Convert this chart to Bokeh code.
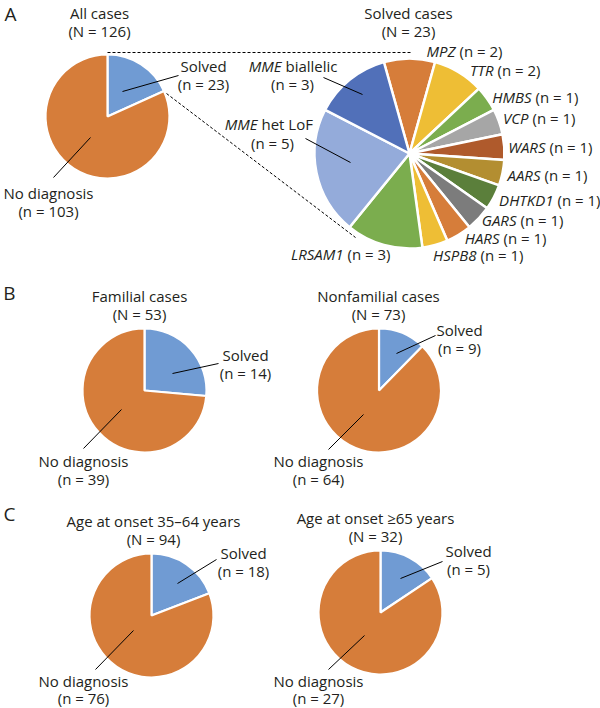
import math
from bokeh.plotting import figure
from bokeh.models import Range1d, ColumnDataSource
from bokeh.core.properties import value
from bokeh.embed import file_html
from bokeh.resources import INLINE

# ---------------- data ----------------
outcome_labels = ["Solved", "No diagnosis"]
all_cases = [23, 103]
familial = [14, 39]
nonfamilial = [9, 64]
onset_35_64 = [18, 76]
onset_65 = [5, 27]

gene_names = ["MPZ", "TTR", "HMBS", "VCP", "WARS", "AARS", "DHTKD1", "GARS",
              "HARS", "HSPB8", "LRSAM1", "MME het LoF", "MME biallelic"]
gene_counts = [2, 2, 1, 1, 1, 1, 1, 1, 1, 1, 3, 5, 3]

# ---------------- styles ----------------
BLUE = "#709BD3"
ORANGE = "#D67D3A"
outcome_colors = [BLUE, ORANGE]
gene_colors = ["#D67D3A", "#EEBE35", "#7BAD4E", "#A6A6A6", "#AF5A2C", "#B38E31",
               "#5B7F3B", "#7C7C7C", "#D67D3A", "#EEBE35", "#7BAD4E", "#94ABDA", "#5170B9"]
TC = "#231F20"
FONT = value("Open Sans")
FS = "15px"
BIG = "19px"

W, H = 600, 708
p = figure(width=W, height=H, x_range=Range1d(0, W), y_range=Range1d(0, H),
           output_backend="svg", toolbar_location=None, min_border=0,
           x_axis_location=None, y_axis_location=None)
p.grid.visible = False
p.outline_line_color = None
p.background_fill_color = "white"
p.border_fill_color = "white"


def pie(cx, cy, r, counts, colors, offset_frac=0.0, lw=2.2):
    total = sum(counts)
    cum = offset_frac
    starts, ends = [], []
    for c in counts:
        a0 = cum * 2 * math.pi
        cum += c / total
        a1 = cum * 2 * math.pi
        starts.append(math.pi / 2 - a1)
        ends.append(math.pi / 2 - a0)
    src = ColumnDataSource(dict(start=starts, end=ends, color=colors))
    p.wedge(x=cx, y=H - cy, radius=r, start_angle="start", end_angle="end",
            direction="anticlock", fill_color="color", line_color="white",
            line_width=lw, source=src)


def txt(x, y, s, size=FS, style="normal", align="center"):
    p.text(x=[x], y=[H - y], text=[s], text_font=FONT, text_font_size=size,
           text_font_style=style, text_align=align, text_baseline="middle",
           text_color=TC)


def seg(x0, y0, x1, y1, dash="solid"):
    p.segment(x0=[x0], y0=[H - y0], x1=[x1], y1=[H - y1], line_color="black",
              line_width=1, line_dash=dash)


def simple_panel(cx, cy, title, counts, title_x, solved_xy, solved_leader,
                 nd_xy, nd_leader, nd_gap=18):
    pie(cx, cy, 62, counts, outcome_colors)
    txt(title_x, cy - 95, title)
    txt(title_x, cy - 77, f"(N = {sum(counts)})")
    sx, sy = solved_xy
    txt(sx, sy, outcome_labels[0])
    txt(sx, sy + 18, f"(n = {counts[0]})")
    seg(*solved_leader)
    nx, ny = nd_xy
    txt(nx, ny, outcome_labels[1])
    txt(nx, ny + nd_gap, f"(n = {counts[1]})")
    seg(*nd_leader)


# ---------------- Panel A ----------------
txt(10, 13, "A", size=BIG)
pie(107, 116, 62, all_cases, outcome_colors)
txt(99, 12, "All cases")
txt(99, 30, f"(N = {sum(all_cases)})")
txt(203, 65, outcome_labels[0])
txt(203, 83, f"(n = {all_cases[0]})")
seg(122, 91, 178, 75)
txt(48, 192, outcome_labels[1])
txt(48, 210, f"(n = {all_cases[1]})")
seg(90, 137, 53, 177)

# zoom connectors
seg(107, 52, 410, 52, dash="3 2")
seg(166, 93, 355, 237, dash="3 2")

# solved pie
pie(409, 153, 95, gene_counts, gene_colors,
    offset_frac=-gene_counts[0] / sum(gene_counts) / 2, lw=2.5)
txt(408, 12, "Solved cases")
txt(408, 30, f"(N = {sum(gene_counts)})")

# (x of "(" , y) for each gene label; gene name is right-aligned before it
gene_label_pos = {
    "MPZ": (459, 50), "TTR": (497, 69), "HMBS": (535, 96),
    "VCP": (532, 117), "WARS": (549, 146), "AARS": (544, 174),
    "DHTKD1": (557, 199), "GARS": (520, 219), "HARS": (503, 237),
    "HSPB8": (480, 254), "LRSAM1": (347, 253),
}
for name, cnt in zip(gene_names, gene_counts):
    if name in gene_label_pos:
        nx, gy = gene_label_pos[name]
        txt(nx - 4, gy, name, style="italic", align="right")
        txt(nx, gy, f"(n = {cnt})", align="left")

# MME labels
het_cnt = gene_counts[gene_names.index("MME het LoF")]
bi_cnt = gene_counts[gene_names.index("MME biallelic")]
txt(281, 65, "MME", style="italic", align="right")
txt(285, 65, "biallelic", align="left")
txt(292, 83, f"(n = {bi_cnt})")
seg(323, 77, 362, 94)
txt(257, 123, "MME", style="italic", align="right")
txt(261, 123, "het LoF", align="left")
txt(272, 142, f"(n = {het_cnt})")
seg(305, 138, 350, 162)

# ---------------- Panel B ----------------
txt(9, 292, "B", size=BIG)
simple_panel(144, 390, "Familial cases", familial, 139, (245, 354),
             (172, 373, 218, 363), (83, 460), (121, 409, 83, 448))
simple_panel(378.5, 390, "Nonfamilial cases", nonfamilial, 378, (459, 329),
             (396, 353, 435, 335), (318, 460), (363, 414, 328, 449))

# ---------------- Panel C ----------------
txt(9, 513, "C", size=BIG)
simple_panel(151, 615, "Age at onset 35\u201364 years", onset_35_64, 153, (243, 552),
             (177, 583, 216, 559), (83, 680), (133, 630, 95, 669), nd_gap=17)
simple_panel(380, 612, "Age at onset \u226565 years", onset_65, 375, (468, 550),
             (400, 578, 442, 561), (318, 680), (364, 635, 328, 669), nd_gap=17)

open("out.html", "w").write(file_html(p, INLINE))
